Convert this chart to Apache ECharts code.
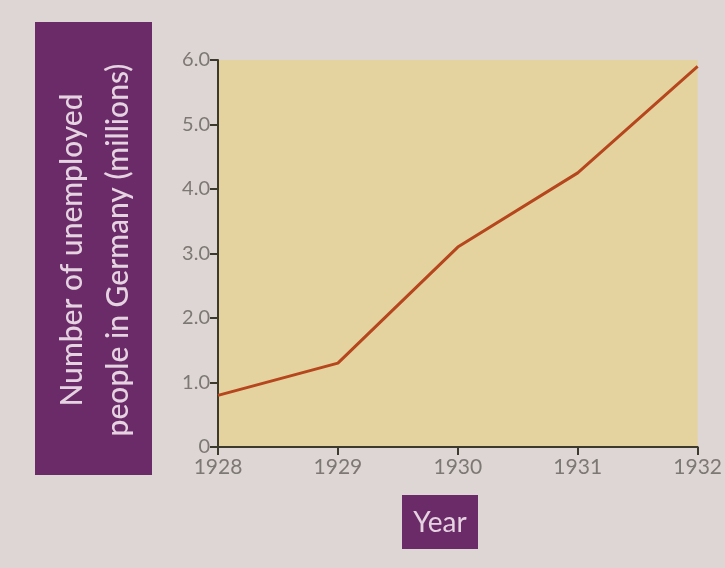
<!DOCTYPE html>
<html>
<head>
<meta charset="utf-8">
<script src="https://cdn.jsdelivr.net/npm/echarts@6/dist/echarts.min.js"></script>
<style>
  html, body { margin: 0; padding: 0; background: #ddd6d4; }
  #chart { width: 725px; height: 568px; }
</style>
</head>
<body>
<div id="chart"></div>
<script>
// data
var years = ['1928', '1929', '1930', '1931', '1932'];
var unemployed = [0.8, 1.3, 3.1, 4.25, 5.9];   // millions
var yTicks = [0, 1, 2, 3, 4, 5, 6];

var purple = '#6a2b68';
var boxText = '#e6d3e2';

var chart = echarts.init(document.getElementById('chart'));

var option = {
  backgroundColor: '#ddd6d4',
  grid: {
    left: 218,
    right: 26,
    top: 60,
    bottom: 121,
    show: true,
    backgroundColor: '#e4d39f',
    borderWidth: 0
  },
  xAxis: {
    type: 'category',
    data: years,
    boundaryGap: false,
    axisLine: { lineStyle: { color: '#3b3a2c', width: 2 } },
    axisTick: { show: true, length: 8, lineStyle: { color: '#3b3a2c', width: 2 } },
    axisLabel: {
      color: '#7d7873',
      fontFamily: 'Lato',
      fontSize: 21,
      margin: 10
    }
  },
  yAxis: {
    type: 'value',
    min: yTicks[0],
    max: yTicks[yTicks.length - 1],
    interval: 1,
    splitLine: { show: false },
    axisLine: { show: true, lineStyle: { color: '#3b3a2c', width: 2 } },
    axisTick: { show: true, length: 8, lineStyle: { color: '#3b3a2c', width: 2 } },
    axisLabel: {
      color: '#7d7873',
      fontFamily: 'Lato',
      fontSize: 20,
      margin: 8,
      formatter: function (v) { return v === 0 ? '0' : v.toFixed(1); }
    }
  },
  series: [{
    type: 'line',
    data: unemployed,
    symbol: 'none',
    lineStyle: { color: '#b5461d', width: 3 }
  }],
  graphic: [
    {
      type: 'rect',
      left: 35, top: 22,
      shape: { width: 117, height: 453 },
      style: { fill: purple }
    },
    {
      type: 'text',
      x: 95, y: 250,
      rotation: Math.PI / 2,
      style: {
        text: 'Number of unemployed\npeople in Germany (millions)',
        fill: boxText,
        font: '500 30px Lato',
        align: 'center',
        verticalAlign: 'middle',
        lineHeight: 46
      }
    },
    {
      type: 'rect',
      left: 402, top: 495,
      shape: { width: 76, height: 54 },
      style: { fill: purple }
    },
    {
      type: 'text',
      x: 440, y: 523,
      style: {
        text: 'Year',
        fill: boxText,
        font: '28px Lato',
        align: 'center',
        verticalAlign: 'middle'
      }
    }
  ]
};

chart.setOption(option);
</script>
</body>
</html>
